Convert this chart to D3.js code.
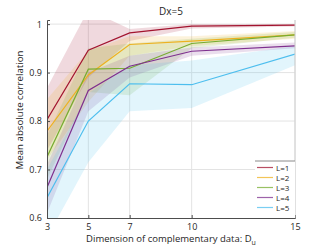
<!DOCTYPE html>
<html>
<head>
<meta charset="utf-8">
<script src="https://cdn.jsdelivr.net/npm/d3@7"></script>
<style>
  body { margin: 0; background: #fff; }
  text { font-family: "Open Sans", sans-serif; fill: #262626; }
</style>
</head>
<body>
<div id="chart"></div>
<script>
// data
var dims = [3, 5, 7, 10, 15];
var xTicks = [3, 5, 7, 10, 15];
var yTicks = [0.6, 0.7, 0.8, 0.9, 1];
var labels = ["L=1", "L=2", "L=3", "L=4", "L=5"];
var colors = ["#a2142f", "#edb120", "#77ac30", "#7e2f8e", "#4dbeee"];

var meanL1 = [0.803, 0.946, 0.982, 0.996, 0.998];
var meanL2 = [0.779, 0.895, 0.958, 0.965, 0.978];
var meanL3 = [0.726, 0.907, 0.909, 0.96, 0.978];
var meanL4 = [0.663, 0.863, 0.913, 0.944, 0.955];
var meanL5 = [0.642, 0.8, 0.877, 0.875, 0.938];

var lowL1 = [0.74, 0.89, 0.965, 0.991, 0.995];
var highL1 = [0.868, 1.03, 0.99, 1.0, 1.0];
var lowL2 = [0.72, 0.84, 0.935, 0.955, 0.97];
var highL2 = [0.845, 0.945, 0.975, 0.975, 0.986];
var lowL3 = [0.68, 0.86, 0.853, 0.95, 0.972];
var highL3 = [0.77, 0.95, 0.96, 0.97, 0.984];
var lowL4 = [0.61, 0.82, 0.89, 0.935, 0.95];
var highL4 = [0.71, 0.9, 0.935, 0.952, 0.962];
var lowL5 = [0.56, 0.715, 0.82, 0.827, 0.915];
var highL5 = [0.7, 0.857, 0.915, 0.925, 0.955];

var means = [meanL1, meanL2, meanL3, meanL4, meanL5];
var lows = [lowL1, lowL2, lowL3, lowL4, lowL5];
var highs = [highL1, highL2, highL3, highL4, highL5];

var W = 332, H = 249;
var margin = { top: 20, right: 37, bottom: 31, left: 47 },
  width = W - margin.left - margin.right,
  height = H - margin.top - margin.bottom;

var svg = d3.select("#chart").append("svg")
  .attr("width", W).attr("height", H);

var g = svg.append("g")
  .attr("transform", "translate(" + margin.left + "," + margin.top + ")");

var x = d3.scaleLinear().domain([3, 15]).range([0, width]);
var y = d3.scaleLinear().domain([0.6, 1.0085]).range([height, 0]);

// grid
g.selectAll(".vgrid").data(xTicks.slice(1)).enter().append("line")
  .attr("x1", d => x(d)).attr("x2", d => x(d))
  .attr("y1", 0).attr("y2", height)
  .attr("stroke", "#e3e3e3").attr("stroke-width", 1);
g.selectAll(".hgrid").data(yTicks.slice(1)).enter().append("line")
  .attr("x1", 0).attr("x2", width)
  .attr("y1", d => y(d)).attr("y2", d => y(d))
  .attr("stroke", "#e3e3e3").attr("stroke-width", 1);

g.append("clipPath").attr("id", "clip")
  .append("rect").attr("width", width).attr("height", height);

var plot = g.append("g").attr("clip-path", "url(#clip)");

// bands
var area = d3.area()
  .x(d => x(d.x)).y0(d => y(d.lo)).y1(d => y(d.hi));
means.forEach(function (m, i) {
  var pts = dims.map((d, j) => ({ x: d, lo: lows[i][j], hi: highs[i][j] }));
  plot.append("path").datum(pts)
    .attr("d", area)
    .attr("fill", colors[i])
    .attr("fill-opacity", 0.16);
});

// lines
var line = d3.line().x(d => x(d.x)).y(d => y(d.y));
means.forEach(function (m, i) {
  var pts = dims.map((d, j) => ({ x: d, y: m[j] }));
  plot.append("path").datum(pts)
    .attr("d", line)
    .attr("fill", "none")
    .attr("stroke", colors[i])
    .attr("stroke-width", 1.2);
});

// axes
var xAxis = g.append("g")
  .attr("transform", "translate(0," + height + ")")
  .call(d3.axisBottom(x).tickValues(xTicks).tickSize(-3).tickPadding(6));
var yAxis = g.append("g")
  .call(d3.axisLeft(y).tickValues(yTicks).tickFormat(d3.format("~g")).tickSize(-3).tickPadding(5));
[xAxis, yAxis].forEach(function (a) {
  a.select(".domain").attr("stroke", "#4d4d4d");
  a.selectAll(".tick line").attr("stroke", "#4d4d4d");
  a.selectAll(".tick text").style("font-size", "9px").attr("fill", "#262626");
});
// right edge line at x=15
g.append("line").attr("x1", width).attr("x2", width)
  .attr("y1", 0).attr("y2", height).attr("stroke", "#d0d0d0");

// title and labels
svg.append("text")
  .attr("x", margin.left + width / 2).attr("y", 15)
  .attr("text-anchor", "middle").style("font-size", "10px")
  .text("Dx=5");

var xl = svg.append("text")
  .attr("x", margin.left + width / 2).attr("y", 242)
  .attr("text-anchor", "middle").style("font-size", "9.5px");
xl.append("tspan").text("Dimension of complementary data: D");
xl.append("tspan").attr("dy", 2.5).style("font-size", "7px").text("u");

svg.append("text")
  .attr("transform", "translate(23," + (margin.top + height / 2 - 9) + ") rotate(-90)")
  .attr("text-anchor", "middle").style("font-size", "9.7px")
  .text("Mean absolute correlation");

// legend
var lg = svg.append("g").attr("transform", "translate(255,161)");
lg.append("rect").attr("width", 40).attr("height", 57)
  .attr("fill", "#fff");
lg.append("line").attr("x1", 0).attr("x2", 40).attr("y1", 0).attr("y2", 0)
  .attr("stroke", "#8a8a8a");
labels.forEach(function (l, i) {
  var row = lg.append("g").attr("transform", "translate(0," + (6.5 + i * 10) + ")");
  row.append("line").attr("x1", 2).attr("x2", 18)
    .attr("stroke", colors[i]).attr("stroke-width", 1.2).attr("stroke-opacity", 0.75);
  row.append("text").attr("x", 21).attr("y", 3)
    .style("font-size", "8px").text(l);
});
</script>
</body>
</html>
